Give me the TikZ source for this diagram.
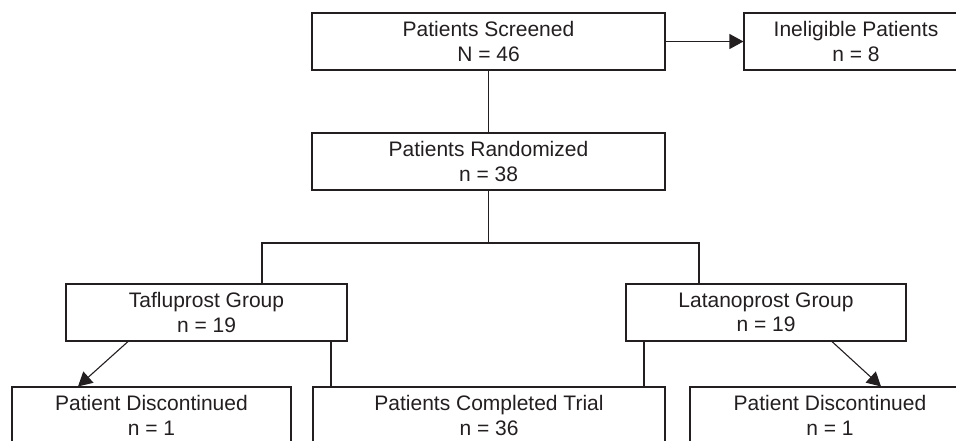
\documentclass[tikz,border=0pt]{standalone}
\usepackage{fontspec}
\setmainfont{Liberation Sans}
\usetikzlibrary{arrows.meta}
\definecolor{ink}{RGB}{35,31,32}
\begin{document}
\begin{tikzpicture}[x=1pt,y=-1pt,
  box/.style={draw=ink, line width=1.1pt, rectangle, inner sep=0pt, minimum height=57pt, align=center, text=ink, font=\fontsize{21}{24.5}\selectfont},
  link/.style={draw=ink, line width=1.1pt},
  arr/.style={link, -{Triangle[length=14pt,width=15pt]}}]
\useasboundingbox (0,0) rectangle (956,440);
\clip (0,0) rectangle (956,440);
\node[box, minimum width=353pt] (scr) at (488.5,41.5) {Patients Screened\\N = 46};
\node[box, minimum width=224pt] (inel) at (856,41.5) {Ineligible Patients\\n = 8};
\node[box, minimum width=353pt] (rnd) at (488.5,161.5) {Patients Randomized\\n = 38};
\node[box, minimum width=281pt] (taf) at (206.5,312.5) {Tafluprost Group\\n = 19};
\node[box, minimum width=280pt] (lat) at (766,312.5) {Latanoprost Group\\n = 19};
\node[box, minimum width=279pt] (dl) at (151.5,415.5) {Patient Discontinued\\n = 1};
\node[box, minimum width=352pt] (cmp) at (489,415.5) {Patients Completed Trial\\n = 36};
\node[box, minimum width=280pt] (dr) at (830,415.5) {Patient Discontinued\\n = 1};
\coordinate (bus) at (488.5,243);
\coordinate (bl) at (262,243);
\coordinate (br) at (699,243);
\coordinate (cl) at (331,0);
\coordinate (cr) at (644,0);
\coordinate (a1) at (128,0);
\coordinate (a2) at (78,0);
\coordinate (b1) at (832,0);
\coordinate (b2) at (881,0);
\draw[arr] (scr.east) -- (inel.west);
\draw[link] (scr.south) -- (rnd.north);
\draw[link] (rnd.south) -- (bus);
\draw[link] (taf.north -| bl) -- (bl) -- (br) -- (lat.north -| br);
\draw[link] (taf.south -| cl) -- (cmp.north -| cl);
\draw[link] (lat.south -| cr) -- (cmp.north -| cr);
\draw[arr] (taf.south -| a1) -- (dl.north -| a2);
\draw[arr] (lat.south -| b1) -- (dr.north -| b2);
\end{tikzpicture}
\end{document}
